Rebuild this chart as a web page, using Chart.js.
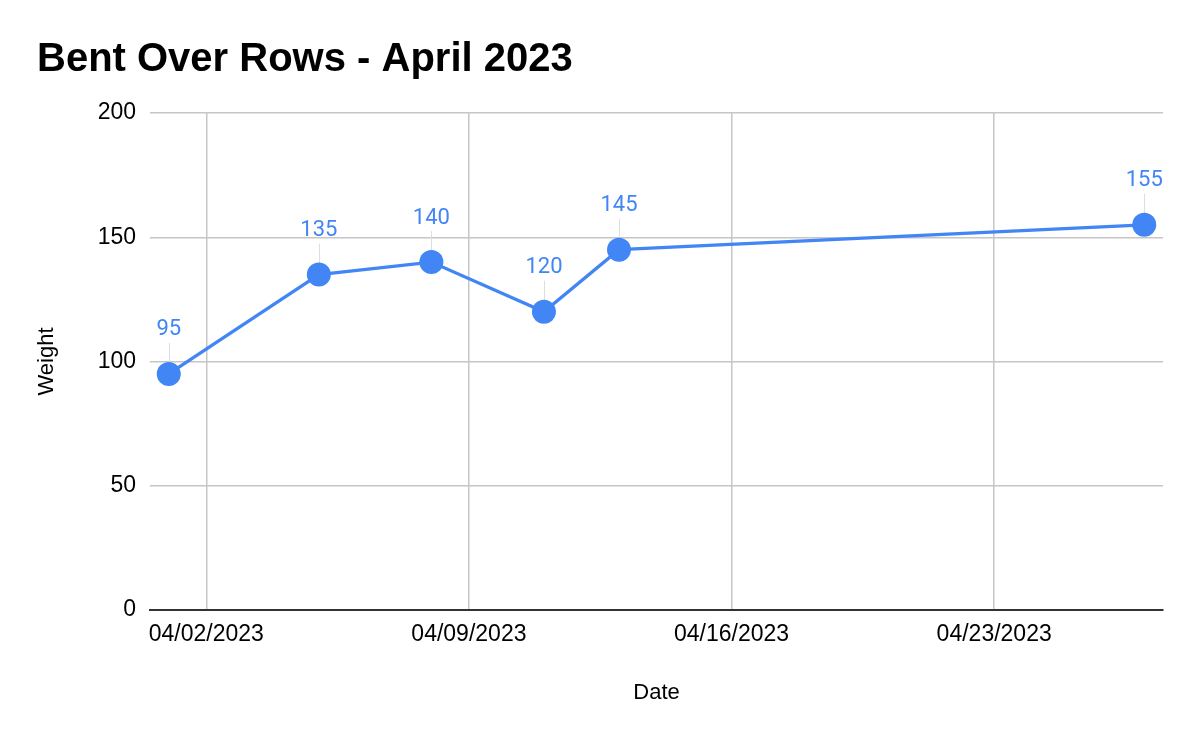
<!DOCTYPE html>
<html>
<head>
<meta charset="utf-8">
<script src="https://cdn.jsdelivr.net/npm/chart.js@4.4.0/dist/chart.umd.min.js"></script>
<style>
    html, body { margin: 0; padding: 0; background: #fff; }
    #wrap { width: 1200px; height: 742px; }
</style>
</head>
<body>
<div id="wrap"><canvas id="rowsChart"></canvas></div>
<script>
// Workout data
const dates = ['04/01/2023', '04/05/2023', '04/08/2023', '04/11/2023', '04/13/2023', '04/27/2023'];
const weights = [95, 135, 140, 120, 145, 155];
const tickDates = ['04/02/2023', '04/09/2023', '04/16/2023', '04/23/2023'];
const yTicks = [0, 50, 100, 150, 200];

const blue = '#4285F4';
const DAY = 86400000;

// mm/dd/yyyy -> day number
function toDay(str) {
    const [m, d, y] = str.split('/').map(Number);
    return Date.UTC(y, m - 1, d) / DAY;
}

// day number -> mm/dd/yyyy
function fromDay(n) {
    const dt = new Date(Math.round(n) * DAY);
    const mm = String(dt.getUTCMonth() + 1).padStart(2, '0');
    const dd = String(dt.getUTCDate()).padStart(2, '0');
    return `${mm}/${dd}/${dt.getUTCFullYear()}`;
}

const points = dates.map((d, i) => ({ x: toDay(d), y: weights[i] }));

// Value labels with a thin leader line above each point
const valueLabels = {
    id: 'valueLabels',
    beforeDatasetsDraw(chart) {
        const ctx = chart.ctx;
        const meta = chart.getDatasetMeta(0);
        ctx.save();
        ctx.strokeStyle = '#dddddd';
        ctx.lineWidth = 1;
        meta.data.forEach(pt => {
            ctx.beginPath();
            ctx.moveTo(Math.round(pt.x) + 0.5, pt.y);
            ctx.lineTo(Math.round(pt.x) + 0.5, pt.y - 31);
            ctx.stroke();
        });
        ctx.restore();
    },
    afterDatasetsDraw(chart) {
        const ctx = chart.ctx;
        const meta = chart.getDatasetMeta(0);
        ctx.save();
        ctx.fillStyle = blue;
        ctx.font = '22px Roboto';
        ctx.textAlign = 'center';
        ctx.textBaseline = 'middle';
        meta.data.forEach((pt, i) => {
            ctx.fillText(String(weights[i]), pt.x, pt.y - 44);
        });
        ctx.restore();
    }
};

new Chart(document.getElementById('rowsChart'), {
    type: 'line',
    data: {
        datasets: [{
            label: 'Weight',
            data: points,
            borderColor: blue,
            backgroundColor: blue,
            borderWidth: 3.3,
            pointRadius: 12,
            pointHoverRadius: 12,
            pointBorderWidth: 0,
            pointBackgroundColor: blue,
            tension: 0,
            clip: false
        }]
    },
    options: {
        responsive: true,
        maintainAspectRatio: false,
        animation: false,
        events: [],
        layout: {
            padding: { left: 37, right: 37, top: 0, bottom: 36 }
        },
        plugins: {
            legend: { display: false },
            tooltip: { enabled: false },
            title: {
                display: true,
                text: 'Bent Over Rows - April 2023',
                align: 'start',
                color: '#000',
                font: { family: 'Liberation Sans', size: 40, weight: 'bold', lineHeight: 1.2 },
                padding: { top: 36, bottom: 29 }
            }
        },
        scales: {
            x: {
                type: 'linear',
                min: toDay('03/31/2023') + 0.5,
                max: toDay('04/27/2023') + 0.5,
                afterBuildTicks: scale => {
                    scale.ticks = tickDates.map(d => ({ value: toDay(d) }));
                },
                ticks: {
                    color: '#000',
                    font: { family: 'Liberation Sans', size: 23 },
                    padding: 11,
                    maxRotation: 0,
                    autoSkip: false,
                    callback: v => fromDay(v)
                },
                grid: { color: '#c6c6c6', lineWidth: 1.5, drawTicks: false },
                border: { display: true, color: '#333333', width: 2 },
                title: {
                    display: true,
                    text: 'Date',
                    color: '#000',
                    font: { family: 'Liberation Sans', size: 22 },
                    padding: { top: 20, bottom: 0 }
                }
            },
            y: {
                min: 0,
                max: 200,
                afterBuildTicks: scale => {
                    scale.ticks = yTicks.map(v => ({ value: v }));
                },
                afterFit: scale => { scale.width = 113; },
                ticks: {
                    color: '#000',
                    font: { family: 'Liberation Sans', size: 23 },
                    padding: 14
                },
                grid: { color: '#c6c6c6', lineWidth: 1.5, drawTicks: false },
                border: { display: false },
                title: {
                    display: true,
                    text: 'Weight',
                    color: '#000',
                    font: { family: 'Liberation Sans', size: 22 },
                    padding: { top: -3, bottom: 0 }
                }
            }
        }
    },
    plugins: [valueLabels]
});
</script>
</body>
</html>
